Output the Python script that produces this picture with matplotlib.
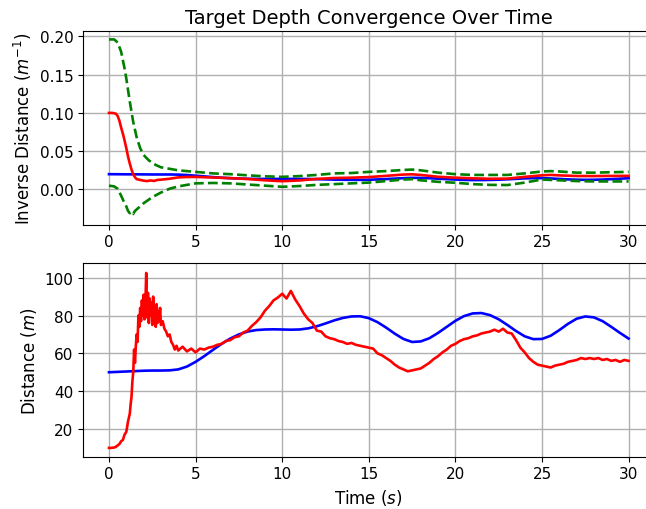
import matplotlib
matplotlib.use("Agg")
import matplotlib.pyplot as plt
import numpy as np

# ---- data ----
t_blue = [i * 0.5 for i in range(61)]
dist_blue = [50.0, 50.2, 50.4, 50.6, 50.8, 50.9, 50.9, 51.0, 51.5, 53.0,
             55.5, 58.5, 61.8, 65.0, 67.8, 70.0, 71.5, 72.3, 72.6, 72.7,
             72.6, 72.5, 72.6, 73.2, 74.3, 75.8, 77.4, 78.7, 79.5, 79.6,
             78.6, 76.5, 73.6, 70.4, 67.6, 66.0, 66.3, 68.0, 70.8, 74.0,
             77.2, 79.7, 81.1, 81.3, 80.2, 78.0, 75.0, 71.8, 69.0, 67.5,
             67.6, 69.3, 72.3, 75.6, 78.3, 79.5, 79.0, 77.0, 74.0, 70.8, 67.8]
inv_blue = [0.0200, 0.0199, 0.0198, 0.0198, 0.0197, 0.0196, 0.0196, 0.0196, 0.0194, 0.0189,
            0.0180, 0.0171, 0.0162, 0.0154, 0.0148, 0.0143, 0.0140, 0.0138, 0.0138, 0.0138,
            0.0138, 0.0138, 0.0138, 0.0137, 0.0135, 0.0132, 0.0129, 0.0127, 0.0126, 0.0126,
            0.0127, 0.0131, 0.0136, 0.0142, 0.0148, 0.0152, 0.0151, 0.0147, 0.0141, 0.0135,
            0.0130, 0.0125, 0.0123, 0.0123, 0.0125, 0.0128, 0.0133, 0.0139, 0.0145, 0.0148,
            0.0148, 0.0144, 0.0138, 0.0132, 0.0128, 0.0126, 0.0127, 0.0130, 0.0135, 0.0141, 0.0147]

t_inv_red = [0, 0.2, 0.4, 0.5, 0.6, 0.7, 0.8, 0.9, 1.0, 1.1, 1.2, 1.3, 1.4, 1.5, 1.6,
             1.8, 2.0, 2.2, 2.4, 2.6, 2.8, 3.0, 3.5, 4, 4.5, 5, 6, 7, 8, 9, 10, 11, 12,
             13, 14, 15, 16, 17, 17.5, 18, 19, 20, 21, 22, 23, 24, 25, 25.5, 26, 27,
             28, 29, 30]
inv_red = [0.100, 0.100, 0.099, 0.096, 0.090, 0.081, 0.073, 0.064, 0.054, 0.043,
           0.034, 0.026, 0.020, 0.016, 0.0135, 0.0125, 0.0115, 0.0110, 0.0118, 0.0112,
           0.0125, 0.0128, 0.0140, 0.0158, 0.0163, 0.0164, 0.0156, 0.0148, 0.0137, 0.0120,
           0.0108, 0.0118, 0.0138, 0.0150, 0.0154, 0.0162, 0.0178, 0.0195, 0.0198, 0.0190,
           0.0166, 0.0154, 0.0146, 0.0140, 0.0142, 0.0165, 0.0185, 0.0190, 0.0184, 0.0176,
           0.0175, 0.0177, 0.0178]

t_upper = [0, 0.3, 0.5, 0.7, 0.9, 1.0, 1.2, 1.4, 1.6, 1.8, 2.0, 2.3, 2.7, 3, 3.5, 4,
           5, 6, 7, 8, 9, 10, 11, 12, 13, 14, 15, 16, 17, 17.5, 18, 19, 20, 21, 22,
           23, 24, 25, 25.5, 26, 27, 28, 29, 30]
inv_upper = [0.196, 0.196, 0.192, 0.180, 0.158, 0.145, 0.115, 0.088, 0.068, 0.054,
             0.045, 0.038, 0.032, 0.029, 0.027, 0.025, 0.023, 0.021, 0.020, 0.0185,
             0.0172, 0.0165, 0.0175, 0.019, 0.021, 0.0215, 0.023, 0.024, 0.0255, 0.026,
             0.025, 0.022, 0.020, 0.019, 0.019, 0.019, 0.021, 0.0235, 0.024, 0.0235,
             0.022, 0.022, 0.0225, 0.023]

t_lower = [0, 0.3, 0.5, 0.7, 0.9, 1.0, 1.1, 1.2, 1.3, 1.4, 1.5, 1.7, 2.0, 2.5, 3.0,
           3.5, 4, 5, 6, 7, 8, 9, 10, 11, 12, 13, 14, 15, 16, 17, 17.5, 18, 19, 20,
           21, 22, 23, 24, 25, 26, 27, 28, 29, 30]
inv_lower = [0.005, 0.004, 0.001, -0.008, -0.018, -0.022, -0.028, -0.031, -0.029,
             -0.032, -0.028, -0.024, -0.018, -0.010, -0.004, 0.001, 0.004, 0.008,
             0.0085, 0.008, 0.0065, 0.005, 0.0035, 0.0045, 0.006, 0.007, 0.008, 0.009,
             0.011, 0.013, 0.0135, 0.012, 0.010, 0.0088, 0.007, 0.006, 0.0058, 0.009,
             0.013, 0.012, 0.011, 0.0105, 0.0105, 0.0105]

t_red = [0.0, 0.1, 0.2, 0.3, 0.4, 0.5, 0.6, 0.7, 0.8, 0.9, 1.0, 1.1, 1.2, 1.25, 1.3,
         1.35, 1.4, 1.45, 1.5, 1.55, 1.6, 1.65, 1.7, 1.75, 1.8, 1.85, 1.9, 1.95, 2.0,
         2.05, 2.1, 2.15, 2.2, 2.25, 2.3, 2.35, 2.4, 2.45, 2.5, 2.55, 2.6, 2.65, 2.7,
         2.75, 2.8, 2.85, 2.9, 2.95, 3.0, 3.1, 3.2, 3.3, 3.4, 3.5, 3.6, 3.7, 3.8, 3.9,
         4.0, 4.25, 4.5, 4.75, 5.0, 5.25, 5.5, 5.75, 6.0, 6.25, 6.5, 6.75, 7.0, 7.25,
         7.5, 7.75, 8.0, 8.25, 8.5, 8.75, 9.0, 9.25, 9.5, 9.75, 10.0, 10.25, 10.5,
         10.75, 11.0, 11.25, 11.5, 11.75, 12.0, 12.25, 12.5, 12.75, 13.0, 13.25, 13.5,
         13.75, 14.0, 14.25, 14.5, 14.75, 15.0, 15.25, 15.5, 15.75, 16.0, 16.25, 16.5,
         16.75, 17.0, 17.25, 17.5, 17.75, 18.0, 18.25, 18.5, 18.75, 19.0, 19.25, 19.5,
         19.75, 20.0, 20.25, 20.5, 20.75, 21.0, 21.25, 21.5, 21.75, 22.0, 22.25, 22.5,
         22.75, 23.0, 23.25, 23.5, 23.75, 24.0, 24.25, 24.5, 24.75, 25.0, 25.25, 25.5,
         25.75, 26.0, 26.25, 26.5, 26.75, 27.0, 27.25, 27.5, 27.75, 28.0, 28.25, 28.5,
         28.75, 29.0, 29.25, 29.5, 29.75, 30.0]
dist_red = [10.0, 10.0, 10.1, 10.2, 10.6, 11.3, 12.0, 13.5, 14.2, 17.0, 18.5, 24.0,
            28.0, 33.0, 37.0, 45.0, 50.0, 62.0, 55.0, 64.0, 70.0, 66.0, 80.0, 74.0,
            84.0, 77.0, 88.0, 80.0, 91.0, 78.0, 86.0, 102.5, 79.0, 92.0, 76.0, 89.0,
            80.0, 87.0, 75.0, 90.0, 77.0, 83.0, 74.0, 86.0, 76.0, 82.0, 77.0, 84.0,
            75.0, 77.0, 73.0, 71.5, 69.0, 70.0, 66.0, 64.5, 62.0, 64.0, 61.5, 63.5,
            61.0, 62.5, 60.5, 62.5, 62.0, 63.0, 63.5, 64.5, 65.0, 66.5, 67.0, 68.5,
            69.0, 71.0, 72.0, 74.5, 76.5, 79.0, 82.5, 85.0, 88.0, 89.5, 91.5, 89.0,
            93.0, 88.5, 85.0, 81.0, 78.0, 76.0, 72.0, 71.5, 69.0, 68.0, 67.5, 66.5,
            66.0, 65.0, 65.5, 64.5, 64.0, 63.5, 63.0, 62.5, 60.0, 59.0, 57.5, 56.0,
            54.0, 52.5, 51.5, 50.5, 51.0, 51.5, 52.0, 53.5, 55.0, 57.0, 58.5, 60.5,
            62.0, 64.0, 65.0, 66.5, 67.5, 68.0, 69.0, 69.5, 70.5, 71.0, 71.5, 72.5,
            71.5, 73.0, 71.0, 70.5, 67.0, 63.0, 60.5, 57.5, 55.5, 54.0, 53.5, 53.0,
            52.5, 53.5, 54.0, 54.5, 55.5, 56.0, 56.5, 57.5, 57.0, 57.5, 57.0, 57.5,
            56.5, 57.0, 56.0, 56.5, 55.5, 56.5, 56.0]

xticks = [0, 5, 10, 15, 20, 25, 30]
top_yticks = [0.00, 0.05, 0.10, 0.15, 0.20]
bot_yticks = [20, 40, 60, 80, 100]

# ---- plot ----
plt.rcParams['font.family'] = ['DejaVu Sans']
plt.rcParams['font.size'] = 12
plt.rcParams['xtick.labelsize'] = 11
plt.rcParams['ytick.labelsize'] = 11
fig = plt.figure(figsize=(6.46, 5.10), dpi=100)
W, H = 646.0, 510.0
ax1 = fig.add_axes([83 / W, 1 - 225.7 / H, (654.6 - 83) / W, (225.7 - 32) / H])
ax2 = fig.add_axes([83 / W, 1 - 457.7 / H, (654.6 - 83) / W, (457.7 - 264.3) / H])

LW = 1.9
ax1.plot(t_blue, inv_blue, color='b', lw=LW)
ax1.plot(t_upper, inv_upper, color='g', lw=LW, ls='--')
ax1.plot(t_lower, inv_lower, color='g', lw=LW, ls='--')
ax1.plot(t_inv_red, inv_red, color='r', lw=LW)
ax1.set_xlim(-1.5, 31.5)
ax1.set_ylim(-0.046, 0.207)
ax1.set_xticks(xticks)
ax1.set_yticks(top_yticks)
ax1.set_yticklabels(['%.2f' % v for v in top_yticks])
ax1.grid(True, color='#b0b0b0', lw=1.0)
ax1.set_axisbelow(True)
ax1.set_ylabel('Inverse Distance ($m^{-1}$)')
ax1.set_title('Target Depth Convergence Over Time', fontsize=14)

ax2.plot(t_blue, dist_blue, color='b', lw=LW)
ax2.plot(t_red, dist_red, color='r', lw=LW)
ax2.set_xlim(-1.5, 31.5)
ax2.set_ylim(5.35, 107.6)
ax2.set_xticks(xticks)
ax2.set_yticks(bot_yticks)
ax2.grid(True, color='#b0b0b0', lw=1.0)
ax2.set_axisbelow(True)
ax2.set_ylabel('Distance ($m$)')
ax2.set_xlabel('Time ($s$)')

fig.savefig('out.png', dpi=100)
